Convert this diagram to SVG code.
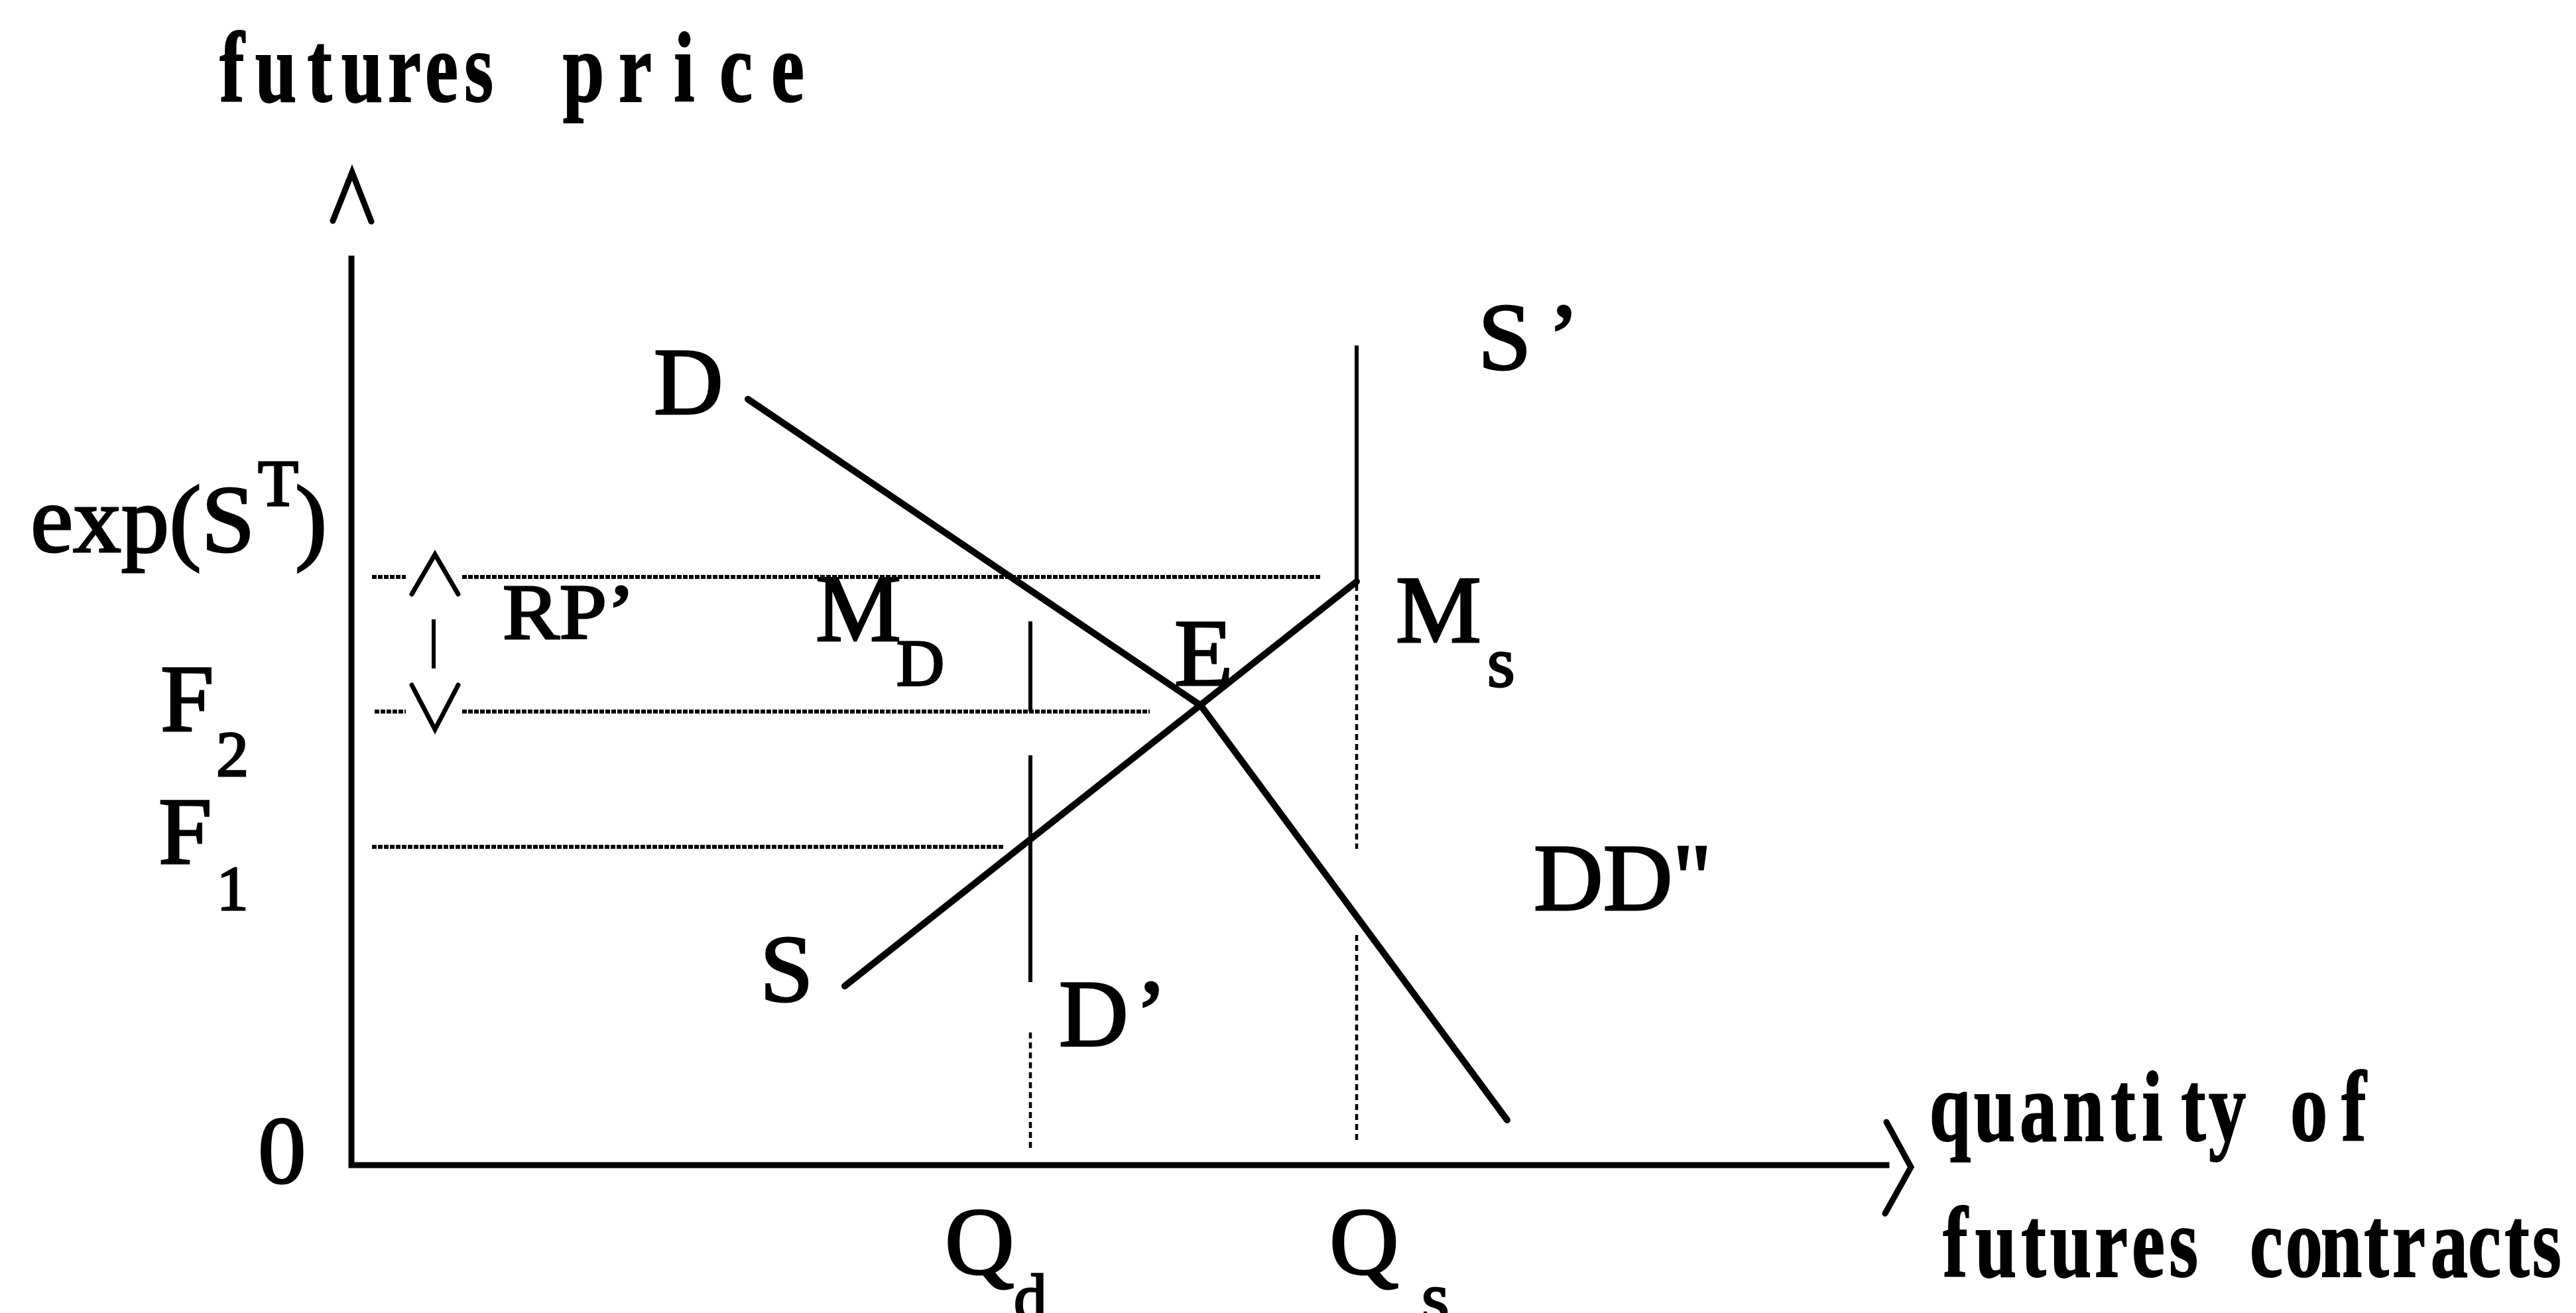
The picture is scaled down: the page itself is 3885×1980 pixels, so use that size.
<svg xmlns="http://www.w3.org/2000/svg" width="3885" height="1980" viewBox="0 0 3885 1980">
<style>
.lbl{font-family:"Liberation Serif","Times New Roman",serif;font-size:145px;fill:#000;stroke:#000;stroke-width:3}
.tw{font-family:"Liberation Serif","Times New Roman",serif;font-size:150px;font-weight:bold;fill:#000;stroke:#000;stroke-width:2;text-anchor:middle}
.ax{stroke:#000;stroke-width:9;fill:none;stroke-linecap:square}
.head{stroke:#000;stroke-width:9;fill:none;stroke-linecap:round;stroke-linejoin:miter}
.rphead{stroke:#000;stroke-width:7;fill:none;stroke-linecap:round;stroke-linejoin:miter}
.curve{stroke:#000;stroke-width:10;fill:none;stroke-linecap:round;stroke-linejoin:miter}
.dense{stroke:#000;stroke-width:6;fill:none;stroke-dasharray:7 2}
.solid{stroke:#000;stroke-width:6;fill:none}
.sparse{stroke:#000;stroke-width:4.5;fill:none;stroke-dasharray:9 6}
</style>
<rect width="3885" height="1980" fill="#fff"/>

<g id="axes">
  <path class="ax" d="M530 390 V1757 H2845"/>
  <polyline class="head" points="502,333 531,260 560,334"/>
  <polyline class="head" points="2845,1692 2882,1760 2843,1830"/>
</g>

<g id="axis-titles">
  <text class="tw" transform="scale(0.75 1)" y="153" x="466.7 554.7 642.7 728 813.3 888 962.7 1066.7 1173.3 1277.3 1376 1480 1584">futures price</text>
  <text class="tw" transform="scale(0.75 1)" y="1720" x="3921.3 4010.7 4098.7 4189.3 4269.3 4328 4410.7 4478.7 4560 4642.7 4733.3">quantity of</text>
  <text class="tw" transform="scale(0.75 1)" y="1925" x="3932 4013.3 4089.3 4164 4245.3 4320 4390.7 4473.3 4557.3 4633.3 4708 4778.7 4844 4925.3 4996 5061.3 5121.3">futures contracts</text>
</g>

<g id="connectors">
  <g id="guides">
    <path class="dense" d="M561 870 H612 M697 870 H1991"/>
    <path class="dense" d="M565 1073 H612 M697 1073 H1734"/>
    <path class="dense" d="M561 1277 H1514"/>
    <path class="solid" d="M1554 937 V1073 M1554 1139 V1481"/>
    <path class="sparse" d="M1554 1557 V1734"/>
    <path class="solid" d="M2046 521 V879"/>
    <path class="sparse" d="M2046 882 V1280 M2046 1410 V1720"/>
  </g>
  <g id="rp-arrow">
    <polyline class="rphead" points="621,896 656,836 691,896"/>
    <path class="solid" d="M654 934 V1008"/>
    <polyline class="rphead" points="621,1033 656,1100 691,1033"/>
  </g>
  <polyline id="demand" class="curve" points="1128,602 1811,1064 2273,1689"/>
  <line id="supply" class="curve" x1="1274" y1="1487" x2="2046" y2="877"/>
</g>

<g id="labels">
  <g id="lbl-exp"><text class="lbl" x="46" y="832">exp(S<tspan x="389" y="762" style="font-size:100px">T</tspan><tspan x="445" y="832">)</tspan></text></g>
  <g id="lbl-F2"><text class="lbl" x="242" y="1102">F<tspan x="326" y="1170" style="font-size:98px">2</tspan></text></g>
  <g id="lbl-F1"><text class="lbl" x="239" y="1302">F<tspan x="327" y="1372" style="font-size:95px">1</tspan></text></g>
  <g id="lbl-0"><text class="lbl" x="389" y="1784">0</text></g>
  <g id="lbl-D"><text class="lbl" x="986" y="624">D</text></g>
  <g id="lbl-Sprime"><text class="lbl" x="2229" y="557">S<tspan x="2334">’</tspan></text></g>
  <g id="lbl-RP"><text class="lbl" x="758" y="963" style="font-size:118px" textLength="200" lengthAdjust="spacingAndGlyphs">RP’</text></g>
  <g id="lbl-MD"><text class="lbl" x="1230" y="966">M<tspan x="1352" y="1033" style="font-size:100px">D</tspan></text></g>
  <g id="lbl-E"><text class="lbl" x="1771" y="1033">E</text></g>
  <g id="lbl-Ms"><text class="lbl" x="2105" y="968">M<tspan x="2243" y="1035" style="font-size:107px">s</tspan></text></g>
  <g id="lbl-DD"><text class="lbl" x="2313" y="1372">DD"</text></g>
  <g id="lbl-S"><text class="lbl" x="1146" y="1510">S</text></g>
  <g id="lbl-Dprime"><text class="lbl" x="1597" y="1577">D<tspan x="1712">’</tspan></text></g>
  <g id="lbl-Qd"><text class="lbl" x="1425" y="1921">Q<tspan x="1529" y="1990" style="font-size:100px">d</tspan></text></g>
  <g id="lbl-Qs"><text class="lbl" x="2005" y="1921">Q<tspan x="2144" y="1993" style="font-size:107px">s</tspan></text></g>
</g>
</svg>
